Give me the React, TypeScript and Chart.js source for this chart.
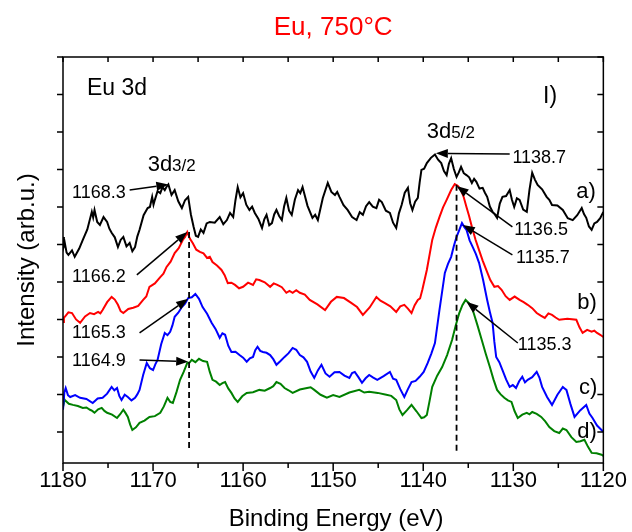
import { useEffect, useRef } from "react";
import { Chart, registerables } from "chart.js";

Chart.register(...registerables);

const FONT = '"Liberation Sans", Arial, Helvetica, sans-serif';

// Binding energy window (eV) and intensity window (arb. units)
const ENERGY_MIN = 1120;
const ENERGY_MAX = 1180;
const INTENSITY_MIN = 1.7;
const INTENSITY_MAX = 110;

// Spectra as [binding energy (eV), intensity (arb.u.)], offset vertically
const curveA: [number, number][] = [
  [1180.0, 62.0], [1179.9, 59.6], [1179.8, 60.4], [1179.6, 57.8], [1179.4, 57.2], [1179.0, 58.4],
  [1178.7, 56.7], [1178.2, 58.9], [1177.8, 61.2], [1177.3, 64.0], [1176.8, 68.7], [1176.65, 67.2],
  [1176.5, 69.2], [1176.2, 66.0], [1175.9, 65.2], [1175.5, 67.3], [1175.1, 66.0], [1174.85, 64.2],
  [1174.6, 63.1], [1174.25, 61.9], [1173.9, 59.3], [1173.6, 61.2], [1173.3, 62.0], [1172.95, 59.5],
  [1172.6, 60.4], [1172.3, 58.2], [1172.0, 59.3], [1171.75, 62.1], [1171.5, 63.9], [1171.05, 67.8],
  [1170.6, 69.7], [1170.35, 70.0], [1170.1, 72.7], [1169.95, 70.6], [1169.8, 71.9], [1169.5, 74.2],
  [1169.2, 73.7], [1168.95, 75.3], [1168.7, 74.5], [1168.5, 75.4], [1168.3, 76.0], [1167.95, 73.2],
  [1167.6, 74.5], [1167.2, 71.5], [1166.8, 69.7], [1166.45, 71.8], [1166.1, 72.7], [1165.8, 68.0],
  [1165.5, 64.7], [1165.25, 62.3], [1165.0, 62.0], [1164.7, 64.0], [1164.4, 63.1], [1164.05, 65.6],
  [1163.7, 66.0], [1163.15, 65.8], [1162.6, 67.3], [1162.2, 65.4], [1161.8, 66.5], [1161.45, 68.4],
  [1161.1, 67.3], [1160.85, 71.8], [1160.6, 75.3], [1160.3, 72.6], [1160.0, 73.7], [1159.65, 70.6],
  [1159.3, 69.2], [1159.0, 70.1], [1158.7, 68.4], [1158.3, 66.8], [1157.9, 64.4], [1157.65, 66.7],
  [1157.4, 67.9], [1157.1, 65.1], [1156.8, 65.7], [1156.55, 68.0], [1156.3, 69.2], [1156.0, 67.6],
  [1155.7, 66.5], [1155.45, 70.1], [1155.2, 72.4], [1154.9, 69.0], [1154.6, 67.9], [1154.25, 72.0],
  [1153.9, 74.5], [1153.65, 73.7], [1153.4, 75.3], [1152.85, 70.3], [1152.3, 67.1], [1152.0, 67.9],
  [1151.7, 66.5], [1151.15, 72.4], [1150.6, 76.4], [1150.2, 74.0], [1149.8, 73.2], [1149.55, 74.0],
  [1149.3, 72.7], [1148.85, 70.5], [1148.4, 69.2], [1147.9, 67.3], [1147.4, 66.5], [1147.05, 68.6],
  [1146.7, 67.9], [1146.35, 70.2], [1146.0, 71.3], [1145.6, 70.1], [1145.2, 69.7], [1144.9, 71.9],
  [1144.6, 71.3], [1144.15, 69.0], [1143.7, 68.4], [1143.35, 65.8], [1143.0, 64.4], [1142.7, 68.3],
  [1142.4, 70.5], [1142.05, 73.8], [1141.7, 75.1], [1141.45, 71.0], [1141.2, 69.2], [1140.9, 71.4],
  [1140.6, 72.4], [1140.4, 76.5], [1140.2, 79.9], [1139.9, 80.2], [1139.6, 81.7], [1139.15, 83.1],
  [1138.7, 84.0], [1138.35, 82.6], [1138.0, 81.7], [1137.7, 79.6], [1137.4, 78.5], [1137.15, 81.5],
  [1136.9, 83.0], [1136.6, 80.1], [1136.3, 78.0], [1136.05, 79.2], [1135.8, 80.7], [1135.5, 79.0],
  [1135.2, 78.5], [1134.9, 77.9], [1134.6, 76.4], [1134.35, 77.5], [1134.1, 76.7], [1133.75, 74.9],
  [1133.4, 75.1], [1133.15, 73.8], [1132.9, 72.7], [1132.6, 70.1], [1132.3, 68.7], [1132.05, 68.0],
  [1131.8, 67.1], [1131.5, 70.9], [1131.2, 72.7], [1130.8, 72.9], [1130.4, 74.5], [1130.15, 71.9],
  [1129.9, 70.0], [1129.6, 72.3], [1129.3, 71.9], [1128.9, 69.3], [1128.5, 68.7], [1128.2, 74.6],
  [1127.9, 79.1], [1127.6, 77.3], [1127.3, 75.9], [1126.8, 74.7], [1126.3, 72.7], [1126.0, 71.9],
  [1125.7, 70.5], [1125.1, 70.4], [1124.5, 69.2], [1123.95, 67.0], [1123.4, 66.5], [1122.9, 67.8],
  [1122.4, 69.7], [1122.15, 68.1], [1121.9, 67.1], [1121.6, 64.8], [1121.3, 63.9], [1121.0, 65.6],
  [1120.7, 66.0], [1120.35, 67.0], [1120.0, 68.7],
];

const curveB: [number, number][] = [
  [1180.0, 39.3], [1179.9, 40.5], [1179.8, 40.7], [1179.4, 41.9], [1179.0, 41.7], [1178.55, 40.0],
  [1178.1, 39.1], [1177.55, 40.8], [1177.0, 41.7], [1176.55, 41.4], [1176.1, 42.0], [1175.85, 41.6],
  [1175.6, 42.5], [1175.1, 44.6], [1174.6, 46.0], [1174.25, 45.3], [1173.9, 43.9], [1173.6, 42.2],
  [1173.3, 41.7], [1172.75, 42.8], [1172.2, 43.1], [1171.65, 43.6], [1171.1, 45.2], [1170.75, 46.1],
  [1170.4, 48.7], [1169.8, 49.6], [1169.2, 51.3], [1168.85, 52.2], [1168.5, 54.0], [1168.05, 55.4],
  [1167.6, 57.7], [1167.15, 59.0], [1166.7, 61.2], [1166.45, 62.0], [1166.2, 63.3], [1165.9, 61.5],
  [1165.6, 60.4], [1165.2, 58.6], [1164.8, 58.0], [1164.4, 57.6], [1164.0, 56.4], [1163.7, 56.7],
  [1163.4, 55.3], [1162.9, 54.4], [1162.4, 53.2], [1162.05, 51.8], [1161.7, 49.7], [1161.3, 49.8],
  [1160.9, 49.2], [1160.45, 48.3], [1160.0, 48.7], [1159.45, 49.8], [1158.9, 49.2], [1158.55, 50.7],
  [1158.2, 50.5], [1157.6, 49.9], [1157.0, 48.7], [1156.6, 49.6], [1156.2, 49.2], [1155.7, 48.6],
  [1155.2, 47.1], [1154.85, 47.6], [1154.5, 47.1], [1154.1, 47.8], [1153.7, 47.1], [1153.15, 46.6],
  [1152.6, 45.2], [1151.75, 44.0], [1150.9, 42.5], [1150.25, 44.7], [1149.6, 46.0], [1148.8, 45.7],
  [1148.0, 44.4], [1147.35, 43.3], [1146.7, 41.2], [1145.95, 43.2], [1145.2, 46.0], [1144.75, 45.0],
  [1144.3, 44.4], [1143.65, 43.5], [1143.0, 42.0], [1142.55, 43.5], [1142.1, 43.9], [1141.7, 42.9],
  [1141.3, 41.7], [1140.95, 43.8], [1140.6, 45.2], [1140.35, 45.6], [1140.1, 47.9], [1139.6, 53.2],
  [1139.0, 61.2], [1138.6, 64.5], [1138.2, 67.3], [1137.8, 69.9], [1137.4, 71.9], [1136.9, 74.5],
  [1136.5, 76.1], [1136.15, 75.6], [1135.8, 74.5], [1135.5, 72.6], [1135.2, 70.0], [1134.9, 67.5],
  [1134.6, 64.7], [1134.2, 61.3], [1133.8, 58.5], [1133.4, 55.7], [1133.0, 53.2], [1132.55, 50.5],
  [1132.1, 48.7], [1131.7, 48.9], [1131.3, 47.9], [1130.85, 46.2], [1130.4, 45.2], [1129.85, 46.1],
  [1129.3, 45.2], [1128.85, 44.6], [1128.4, 43.9], [1127.9, 43.0], [1127.4, 41.7], [1126.95, 41.0],
  [1126.5, 40.4], [1126.1, 41.6], [1125.7, 41.2], [1125.3, 40.5], [1124.9, 39.9], [1124.0, 40.2],
  [1123.0, 39.9], [1122.65, 37.9], [1122.3, 36.4], [1121.8, 37.2], [1121.3, 36.7], [1121.0, 37.0],
  [1120.7, 36.4], [1120.35, 35.9], [1120.0, 35.3],
];

const curveC: [number, number][] = [
  [1180.0, 15.9], [1179.85, 20.5], [1179.7, 21.7], [1179.45, 19.8], [1179.2, 19.3], [1178.65, 19.8],
  [1178.1, 19.1], [1177.4, 18.8], [1176.7, 17.7], [1176.15, 18.9], [1175.6, 19.1], [1175.1, 20.2],
  [1174.6, 22.0], [1174.3, 21.1], [1174.0, 21.7], [1173.75, 19.6], [1173.5, 18.5], [1173.15, 19.9],
  [1172.8, 19.3], [1172.4, 18.4], [1172.0, 19.1], [1171.75, 20.0], [1171.5, 21.2], [1171.1, 25.2],
  [1170.7, 28.4], [1170.35, 27.0], [1170.0, 26.5], [1169.75, 28.0], [1169.5, 29.2], [1169.1, 33.4],
  [1168.7, 36.4], [1168.4, 35.8], [1168.1, 36.7], [1167.85, 38.4], [1167.6, 40.7], [1167.2, 41.8],
  [1166.8, 43.3], [1166.45, 44.2], [1166.1, 45.7], [1165.7, 45.9], [1165.3, 46.8], [1164.9, 45.5],
  [1164.5, 43.3], [1164.0, 41.5], [1163.5, 39.1], [1163.05, 37.4], [1162.6, 35.1], [1162.3, 36.3],
  [1162.0, 35.9], [1161.65, 33.0], [1161.3, 31.3], [1160.85, 31.4], [1160.4, 30.5], [1160.0, 29.8],
  [1159.6, 28.7], [1159.25, 29.6], [1158.9, 30.0], [1158.65, 31.8], [1158.4, 32.7], [1158.1, 31.6],
  [1157.8, 31.3], [1157.4, 31.1], [1157.0, 30.5], [1156.65, 29.4], [1156.3, 27.9], [1155.85, 28.9],
  [1155.4, 30.0], [1154.95, 31.0], [1154.5, 32.4], [1154.1, 31.9], [1153.7, 30.5], [1153.3, 29.9],
  [1152.9, 28.7], [1152.5, 26.1], [1152.1, 24.4], [1151.7, 26.4], [1151.3, 27.9], [1150.85, 25.6],
  [1150.4, 24.7], [1149.85, 25.9], [1149.3, 26.0], [1148.75, 25.0], [1148.2, 24.4], [1147.9, 25.7],
  [1147.6, 26.0], [1147.2, 24.6], [1146.8, 23.1], [1146.4, 24.3], [1146.0, 25.2], [1145.55, 24.5],
  [1145.1, 23.9], [1144.4, 24.9], [1143.7, 26.0], [1143.35, 24.2], [1143.0, 23.9], [1142.55, 21.4],
  [1142.1, 19.3], [1141.7, 21.4], [1141.3, 23.3], [1140.85, 23.6], [1140.4, 24.7], [1139.95, 26.0],
  [1139.5, 28.4], [1139.1, 30.9], [1138.7, 33.7], [1138.2, 42.5], [1137.6, 52.4], [1137.25, 54.8],
  [1136.9, 56.7], [1136.6, 59.6], [1136.3, 62.0], [1136.0, 63.8], [1135.7, 65.7], [1135.45, 64.7],
  [1135.2, 63.9], [1134.85, 61.1], [1134.5, 59.3], [1134.15, 57.4], [1133.8, 55.1], [1133.35, 50.5],
  [1132.9, 45.2], [1132.6, 42.0], [1132.3, 39.1], [1132.1, 34.0], [1131.9, 30.0], [1131.55, 28.6],
  [1131.2, 26.5], [1130.8, 24.0], [1130.4, 22.0], [1130.05, 22.5], [1129.7, 21.7], [1129.35, 23.5],
  [1129.0, 24.7], [1128.7, 23.2], [1128.4, 23.9], [1127.9, 24.6], [1127.4, 26.0], [1127.1, 24.5],
  [1126.8, 22.0], [1126.25, 19.3], [1125.7, 17.2], [1125.1, 19.9], [1124.5, 22.0], [1124.3, 21.6],
  [1124.1, 21.2], [1123.65, 17.4], [1123.2, 14.0], [1122.55, 15.8], [1121.9, 17.2], [1121.55, 14.9],
  [1121.2, 13.7], [1120.7, 11.7], [1120.2, 10.5], [1120.0, 10.0],
];

const curveD: [number, number][] = [
  [1180.0, 19.9], [1179.9, 18.9], [1179.8, 18.5], [1179.35, 17.5], [1178.9, 17.2], [1178.35, 16.9],
  [1177.8, 16.4], [1177.4, 16.5], [1177.0, 15.9], [1176.75, 15.6], [1176.5, 15.1], [1176.1, 16.0],
  [1175.7, 16.4], [1175.4, 15.6], [1175.1, 15.1], [1174.55, 14.6], [1174.0, 13.7], [1173.65, 14.7],
  [1173.3, 15.9], [1173.05, 15.0], [1172.8, 14.0], [1172.55, 12.0], [1172.3, 10.5], [1171.9, 11.2],
  [1171.5, 12.4], [1170.95, 13.0], [1170.4, 14.0], [1169.8, 14.2], [1169.2, 15.1], [1168.8, 16.8],
  [1168.4, 19.1], [1168.1, 18.0], [1167.8, 17.7], [1167.4, 20.6], [1167.0, 23.9], [1166.6, 26.0],
  [1166.2, 28.4], [1165.95, 28.5], [1165.7, 29.2], [1165.3, 28.6], [1164.9, 29.5], [1164.45, 28.9],
  [1164.0, 28.7], [1163.7, 26.0], [1163.4, 23.9], [1163.0, 23.4], [1162.6, 22.5], [1162.3, 23.0],
  [1162.0, 23.3], [1161.65, 21.6], [1161.3, 20.4], [1160.95, 18.9], [1160.6, 18.0], [1160.1, 19.5],
  [1159.6, 20.4], [1158.9, 20.6], [1158.2, 21.2], [1157.6, 21.0], [1157.0, 21.7], [1156.65, 22.2],
  [1156.3, 23.3], [1155.85, 22.8], [1155.4, 21.7], [1154.95, 21.1], [1154.5, 20.4], [1153.7, 21.3],
  [1152.9, 21.7], [1152.5, 21.9], [1152.1, 21.2], [1151.4, 19.9], [1150.7, 19.1], [1150.0, 19.8],
  [1149.3, 19.3], [1148.2, 20.5], [1147.1, 21.2], [1146.55, 20.5], [1146.0, 20.7], [1145.05, 20.4],
  [1144.1, 19.9], [1143.55, 19.6], [1143.0, 18.5], [1142.65, 16.0], [1142.3, 14.5], [1141.8, 15.8],
  [1141.3, 17.2], [1140.75, 15.5], [1140.2, 13.7], [1139.9, 13.9], [1139.6, 14.5], [1139.3, 18.2],
  [1139.0, 22.0], [1138.45, 25.0], [1137.9, 27.3], [1137.35, 30.5], [1136.8, 34.5], [1136.4, 38.3],
  [1136.0, 41.7], [1135.65, 43.8], [1135.3, 45.2], [1134.9, 44.3], [1134.5, 42.5], [1134.0, 38.6],
  [1133.5, 34.5], [1133.05, 30.8], [1132.6, 27.3], [1132.2, 24.0], [1131.8, 21.2], [1131.4, 20.0],
  [1131.0, 19.1], [1130.6, 18.4], [1130.2, 18.0], [1129.85, 15.5], [1129.5, 13.7], [1129.0, 14.6],
  [1128.5, 15.1], [1128.2, 14.7], [1127.9, 15.3], [1127.4, 14.8], [1126.9, 14.0], [1126.45, 12.8],
  [1126.0, 11.3], [1125.45, 10.2], [1124.9, 9.7], [1124.5, 10.9], [1124.1, 10.5], [1123.55, 8.6],
  [1123.0, 7.3], [1122.55, 7.5], [1122.1, 7.9], [1121.7, 6.0], [1121.3, 4.4], [1120.75, 4.3],
  [1120.2, 3.9], [1120.0, 3.6],
];

const curves = [curveA, curveB, curveC, curveD];
const curveColors = ["#000000", "#ff0000", "#0000ff", "#008000"];
const curveLabels = ["a)", "b)", "c)", "d)"];
// where each curve's letter sits: [energy, intensity]
const curveLabelAt: [number, number][] = [[1123.0, 74.0], [1122.9, 44.4], [1122.7, 21.7], [1122.9, 10.0]];

// Peak positions called out with arrows: text anchor, arrow tail, arrow tip
type Note = { text: string; at: [number, number]; from: [number, number]; to: [number, number] };
const peakNotes: Note[] = [
  { text: "1168.3", at: [1179.0, 73.7], from: [1172.6, 74.5], to: [1168.3, 76.0] },
  { text: "1166.2", at: [1179.0, 51.3], from: [1171.8, 51.9], to: [1166.2, 63.3] },
  { text: "1165.3", at: [1179.0, 36.4], from: [1171.5, 36.4], to: [1166.1, 45.5] },
  { text: "1164.9", at: [1179.0, 28.9], from: [1171.5, 29.2], to: [1166.1, 28.7] },
  { text: "1138.7", at: [1130.1, 83.1], from: [1130.4, 84.1], to: [1138.6, 84.3] },
  { text: "1136.5", at: [1129.9, 63.9], from: [1130.1, 64.7], to: [1136.3, 75.6] },
  { text: "1135.7", at: [1129.7, 56.4], from: [1130.1, 57.2], to: [1135.6, 65.2] },
  { text: "1135.3", at: [1129.5, 33.2], from: [1129.5, 33.7], to: [1135.2, 44.7] },
];

// Dashed guides through the 3d3/2 and 3d5/2 positions: [energy, top, bottom]
const guideLines: [number, number, number][] = [[1166.0, 63.3, 4.9], [1136.3, 75.9, 4.9]];

// Spin-orbit component labels: [main, sub, energy, intensity]
const componentLabels: [string, string, number, number][] = [
  ["3d", "3/2", 1170.6, 81.7],
  ["3d", "5/2", 1139.6, 90.5],
];

const TITLE = "Eu, 750°C";
const X_TITLE = "Binding Energy (eV)";
const Y_TITLE = "Intensity (arb.u.)";
const PANEL_TAG = "Eu 3d";
const PANEL_LETTER = "I)";

function drawArrow(ctx: CanvasRenderingContext2D, x1: number, y1: number, x2: number, y2: number) {
  const ang = Math.atan2(y2 - y1, x2 - x1);
  const head = 12;
  const half = 4.5;
  const bx = x2 - head * Math.cos(ang);
  const by = y2 - head * Math.sin(ang);
  ctx.beginPath();
  ctx.moveTo(x1, y1);
  ctx.lineTo(bx, by);
  ctx.stroke();
  ctx.beginPath();
  ctx.moveTo(x2, y2);
  ctx.lineTo(bx + half * Math.sin(ang), by - half * Math.cos(ang));
  ctx.lineTo(bx - half * Math.sin(ang), by + half * Math.cos(ang));
  ctx.closePath();
  ctx.fill();
}

const decorPlugin = {
  id: "xpsDecor",
  afterDatasetsDraw(chart: any) {
    const { ctx, chartArea } = chart;
    const xs = chart.scales.x;
    const ys = chart.scales.y;
    const px = (e: number) => xs.getPixelForValue(e);
    const py = (v: number) => ys.getPixelForValue(v);
    const { left, right, top, bottom } = chartArea;

    ctx.save();
    ctx.strokeStyle = "#000";
    ctx.fillStyle = "#000";

    // frame
    ctx.lineWidth = 1.5;
    ctx.strokeRect(left, top, right - left, bottom - top);

    // x ticks: bottom outward (major every 10, minor every 5), top inward
    for (let e = ENERGY_MIN; e <= ENERGY_MAX; e += 5) {
      const x = px(e);
      const major = e % 10 === 0;
      ctx.beginPath();
      ctx.moveTo(x, bottom);
      ctx.lineTo(x, bottom + (major ? 8 : 5));
      ctx.moveTo(x, top);
      ctx.lineTo(x, top + 5);
      ctx.stroke();
    }
    // y ticks: left outward, right inward
    for (const t of ys.ticks) {
      if (t.value % 10 !== 0) continue;
      const y = py(t.value);
      ctx.beginPath();
      ctx.moveTo(left, y);
      ctx.lineTo(left - 6, y);
      ctx.moveTo(right, y);
      ctx.lineTo(right - 6, y);
      ctx.stroke();
    }

    // dashed guides
    ctx.setLineDash([6, 4]);
    ctx.lineWidth = 1.8;
    for (const [e, v1, v2] of guideLines) {
      ctx.beginPath();
      ctx.moveTo(px(e), py(v1));
      ctx.lineTo(px(e), py(v2));
      ctx.stroke();
    }
    ctx.setLineDash([]);

    // peak call-outs
    ctx.lineWidth = 1.5;
    ctx.font = `18px ${FONT}`;
    ctx.textAlign = "left";
    ctx.textBaseline = "middle";
    for (const n of peakNotes) {
      ctx.fillText(n.text, px(n.at[0]), py(n.at[1]));
      drawArrow(ctx, px(n.from[0]), py(n.from[1]), px(n.to[0]), py(n.to[1]));
    }

    // curve letters
    ctx.font = `22px ${FONT}`;
    curveLabels.forEach((lab, i) => {
      ctx.fillText(lab, px(curveLabelAt[i][0]), py(curveLabelAt[i][1]));
    });

    // 3d component labels
    ctx.textBaseline = "alphabetic";
    for (const [main, sub, e, v] of componentLabels) {
      const x = px(e);
      const y = py(v) + 8;
      ctx.font = `22px ${FONT}`;
      ctx.fillText(main, x, y);
      const w = ctx.measureText(main).width;
      ctx.font = `17px ${FONT}`;
      ctx.fillText(sub, x + w, y);
    }

    // panel tag and letter
    ctx.font = `23px ${FONT}`;
    ctx.fillText(PANEL_TAG, left + 24, top + 38);
    ctx.fillText(PANEL_LETTER, left + 480, top + 46);

    // titles
    ctx.textAlign = "center";
    ctx.textBaseline = "middle";
    ctx.font = `26px ${FONT}`;
    ctx.fillStyle = "#ff0000";
    ctx.fillText(TITLE, (left + right) / 2, 28);
    ctx.fillStyle = "#000";
    ctx.font = `24px ${FONT}`;
    ctx.fillText(X_TITLE, (left + right) / 2 + 3, 519);
    ctx.save();
    ctx.translate(27, (top + bottom) / 2);
    ctx.rotate(-Math.PI / 2);
    ctx.fillText(Y_TITLE, 0, 0);
    ctx.restore();

    ctx.restore();
  },
};

export default function App() {
  const ref = useRef<HTMLCanvasElement>(null);

  useEffect(() => {
    if (!ref.current) return;
    const chart = new Chart(ref.current, {
      type: "line",
      data: {
        datasets: curves.map((c, i) => ({
          label: curveLabels[i],
          data: c.map(([x, y]) => ({ x, y })),
          borderColor: curveColors[i],
          backgroundColor: curveColors[i],
          borderWidth: 2,
          pointRadius: 0,
          tension: 0,
          fill: false,
        })),
      },
      options: {
        animation: false,
        responsive: false,
        maintainAspectRatio: false,
        layout: { padding: { left: 63, right: 28, top: 57, bottom: 0 } },
        plugins: {
          legend: { display: false },
          title: { display: false },
          tooltip: { enabled: false },
        },
        scales: {
          x: {
            type: "linear",
            min: ENERGY_MIN,
            max: ENERGY_MAX,
            reverse: true,
            grid: { display: false, drawTicks: false },
            border: { display: false },
            ticks: {
              stepSize: 10,
              color: "#000",
              padding: 5,
              maxRotation: 0,
              autoSkip: false,
              font: { family: FONT, size: 22 },
              callback: (v: any) => String(v),
            },
            afterFit: (s: any) => {
              s.height = 69;
            },
          },
          y: {
            type: "linear",
            min: INTENSITY_MIN,
            max: INTENSITY_MAX,
            grid: { display: false, drawTicks: false },
            border: { display: false },
            ticks: { display: false, stepSize: 10 },
            afterFit: (s: any) => {
              s.width = 0;
            },
          },
        },
      },
      plugins: [decorPlugin],
    });
    return () => chart.destroy();
  }, []);

  return (
    <div style={{ position: "absolute", left: 0, top: 0, width: 632, height: 532, background: "#fff" }}>
      <canvas ref={ref} width={632} height={532} style={{ display: "block", width: 632, height: 532 }} />
    </div>
  );
}
